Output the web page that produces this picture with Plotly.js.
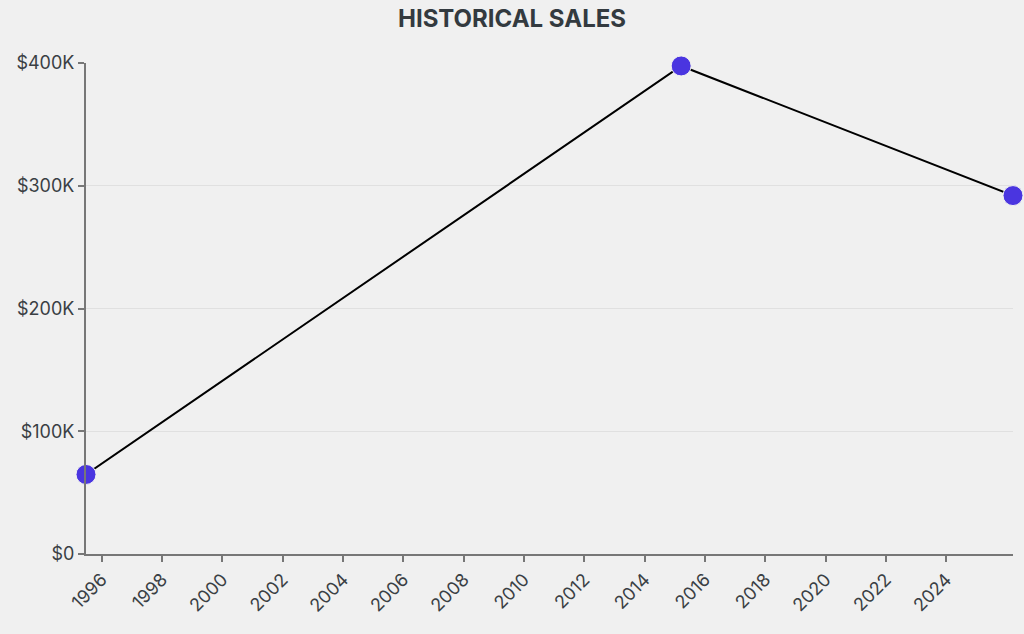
<!DOCTYPE html>
<html>
<head>
<meta charset="utf-8">
<script src="https://cdn.plot.ly/plotly-3.0.1.min.js"></script>
<style>html,body{margin:0;padding:0;background:#f0f0f0;}#chart{width:1024px;height:634px;}</style>
</head>
<body>
<div id="chart"></div>
<script>
const dates = ["1995-06-24", "2015-03-19", "2026-03-20"];
const sales = [64800, 397600, 292000];
const chartTitle = "HISTORICAL SALES";
const yearTicks = ["1996", "1998", "2000", "2002", "2004", "2006", "2008", "2010", "2012", "2014", "2016", "2018", "2020", "2022", "2024"];
const salesTicks = [0, 100000, 200000, 300000, 400000];
const salesTickText = ["$0", "$100K", "$200K", "$300K", "$400K"];

const trace = {
  x: dates,
  y: sales,
  type: "scatter",
  mode: "lines+markers",
  line: {color: "#000000", width: 2},
  marker: {color: "#4a35e0", size: 20, line: {color: "#f0f0f0", width: 1}},
  cliponaxis: false,
  hoverinfo: "x+y"
};

const layout = {
  width: 1024,
  height: 634,
  paper_bgcolor: "#f0f0f0",
  plot_bgcolor: "#f0f0f0",
  font: {family: "Inter, 'Open Sans', sans-serif", size: 18, color: "#3a3f44"},
  title: {text: "<b>" + chartTitle + "</b>", x: 0.5, xanchor: "center", y: 0.971, yanchor: "middle",
          font: {size: 24, color: "#333a3f", family: "Inter, sans-serif"}},
  margin: {l: 86, r: 11, t: 63, b: 80},
  showlegend: false,
  xaxis: {
    type: "date",
    range: [dates[0], dates[dates.length - 1]],
    tickvals: yearTicks.map(y => y + "-01-01"),
    ticktext: yearTicks,
    tickangle: -45,
    ticks: "outside",
    ticklen: 6,
    tickcolor: "#777777",
    tickwidth: 1.5,
    showline: true,
    linecolor: "#777777",
    linewidth: 2,
    showgrid: false,
    zeroline: false,
    tickfont: {size: 18, color: "#3a3f44"}
  },
  yaxis: {
    range: [0, 400000],
    tickvals: salesTicks,
    ticktext: salesTickText,
    ticks: "outside",
    ticklen: 6,
    tickcolor: "#777777",
    tickwidth: 1.5,
    showline: true,
    linecolor: "#777777",
    linewidth: 2,
    showgrid: true,
    gridcolor: "#e0e0e0",
    gridwidth: 1,
    zeroline: false,
    tickfont: {size: 18, color: "#3a3f44"}
  }
};

Plotly.newPlot("chart", [trace], layout, {displayModeBar: false, responsive: false});
</script>
</body>
</html>
